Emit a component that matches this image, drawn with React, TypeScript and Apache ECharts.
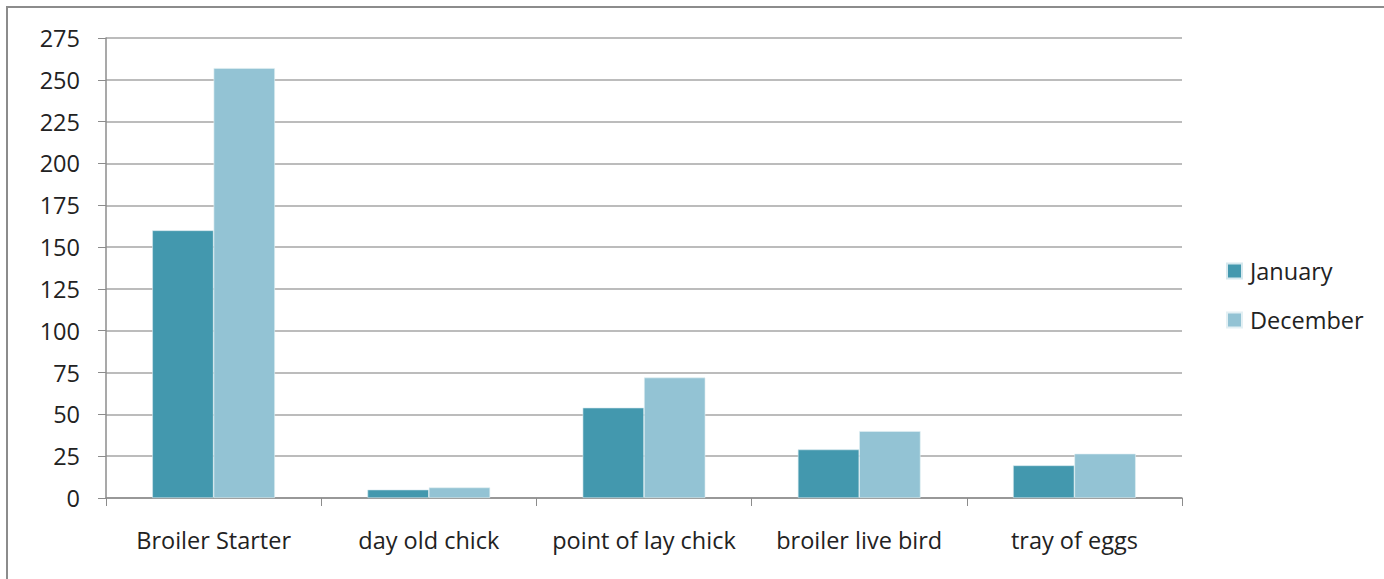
import React, { useEffect, useRef } from "react";
import * as echarts from "echarts";

const categories = ["Broiler Starter", "day old chick", "point of lay chick", "broiler live bird", "tray of eggs"];
const january = [160, 5, 54, 29, 19.5];
const december = [257, 6.3, 72, 40, 26.5];
const yTicks = { min: 0, max: 275, interval: 25 };

export default function App() {
  const ref = useRef<HTMLDivElement>(null);
  useEffect(() => {
    document.body.style.margin = "0";
    const chart = echarts.init(ref.current!, null, { renderer: "svg" });
    const font = "'Open Sans', Lato, sans-serif";
    chart.setOption({
      animation: false,
      backgroundColor: "#ffffff",
      graphic: [
        {
          type: "rect",
          shape: { x: 7, y: 7, width: 1400, height: 600 },
          style: { fill: "none", stroke: "#8c8c8c", lineWidth: 2 },
          silent: true,
        },
      ],
      grid: { left: 106, right: 202, top: 38, bottom: 81 },
      legend: {
        orient: "vertical",
        left: 1221,
        top: 253,
        itemWidth: 15,
        itemHeight: 15,
        itemGap: 23,
        icon: "rect",
        textStyle: { fontFamily: font, fontSize: 23.5, color: "#222", lineHeight: 26, padding: [0, 0, 0, 3] },
        data: ["January", "December"],
      },
      xAxis: {
        type: "category",
        data: categories,
        axisLine: { lineStyle: { color: "#8c8c8c", width: 1.5 } },
        axisTick: { show: true, length: 8, lineStyle: { color: "#8c8c8c" } },
        axisLabel: { fontFamily: font, fontSize: 23.5, color: "#222", margin: 30, interval: 0 },
      },
      yAxis: {
        type: "value",
        min: yTicks.min,
        max: yTicks.max,
        interval: yTicks.interval,
        axisLine: { show: true, lineStyle: { color: "#8c8c8c", width: 1.5 } },
        axisTick: { show: true, length: 8, lineStyle: { color: "#8c8c8c" } },
        axisLabel: { fontFamily: font, fontSize: 23.5, color: "#222", margin: 26 },
        splitLine: { lineStyle: { color: "#a6a6a6", width: 1.5 } },
      },
      series: [
        {
          name: "January",
          type: "bar",
          data: january,
          barGap: "0%",
          barCategoryGap: "43%",
          itemStyle: { color: "#4398ae", borderColor: "#d5e8ee", borderWidth: 0.6 },
        },
        {
          name: "December",
          type: "bar",
          data: december,
          barGap: "0%",
          barCategoryGap: "43%",
          itemStyle: { color: "#93c3d4", borderColor: "#e3f0f4", borderWidth: 0.6 },
        },
      ],
    });
    return () => chart.dispose();
  }, []);
  return <div ref={ref} style={{ width: 1384, height: 579 }} />;
}
